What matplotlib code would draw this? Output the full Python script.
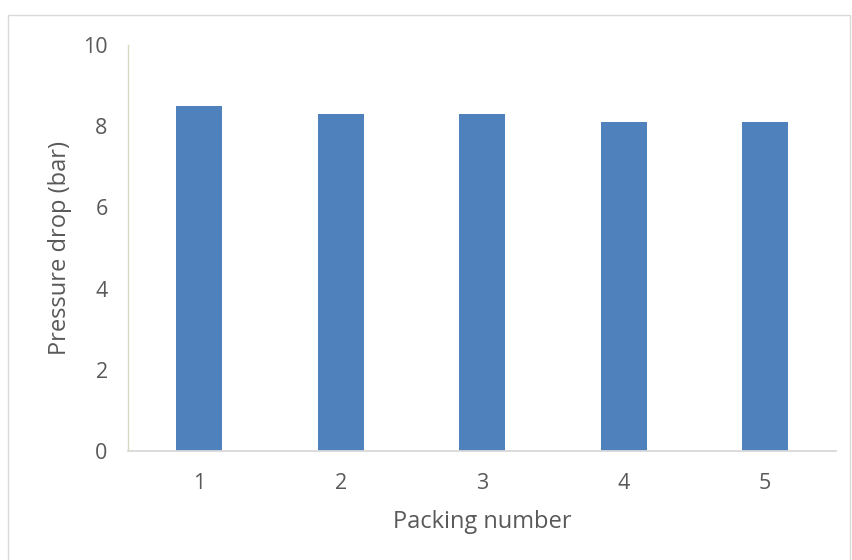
import matplotlib.pyplot as plt
from matplotlib.patches import Rectangle

# datos
packing = ["1", "2", "3", "4", "5"]
pressure_drop = [8.5, 8.3, 8.3, 8.1, 8.1]
y_ticks = [0, 2, 4, 6, 8, 10]

plt.rcParams['font.family'] = ['Open Sans', 'DejaVu Sans']
txt = '#595959'

fig = plt.figure(figsize=(8.52, 5.6), dpi=100)
ax = fig.add_axes([0.1508, 0.1946, 0.8302, 0.725])

x = list(range(1, len(packing) + 1))
ax.bar(x, pressure_drop, width=0.326, color='#4f81bd', zorder=2)

ax.set_xlim(0.5, 5.5)
ax.set_ylim(0, 10)
ax.set_xticks(x)
ax.set_xticklabels(packing)
ax.set_yticks(y_ticks)

for s in ['top', 'right']:
    ax.spines[s].set_visible(False)
ax.spines['left'].set_color('#d9d9c3')
ax.spines['bottom'].set_color('#d9d9d9')
ax.spines['left'].set_linewidth(1.0)
ax.spines['bottom'].set_linewidth(1.3)
ax.tick_params(length=0, labelsize=15.5, colors=txt)
ax.tick_params(axis='x', pad=16)
ax.tick_params(axis='y', pad=15)

ax.set_xlabel("Packing number", fontsize=17, color=txt, labelpad=11)
ax.set_ylabel("Pressure drop (bar)", fontsize=17, color=txt, labelpad=8)

# borde del grafico
fig.patches.append(Rectangle((8 / 852, -0.05), (850 - 8) / 852, 1.05 - 15 / 560,
                             transform=fig.transFigure, fill=False,
                             edgecolor='#d9d9d9', linewidth=1.0))

fig.savefig("out.png", dpi=100)
